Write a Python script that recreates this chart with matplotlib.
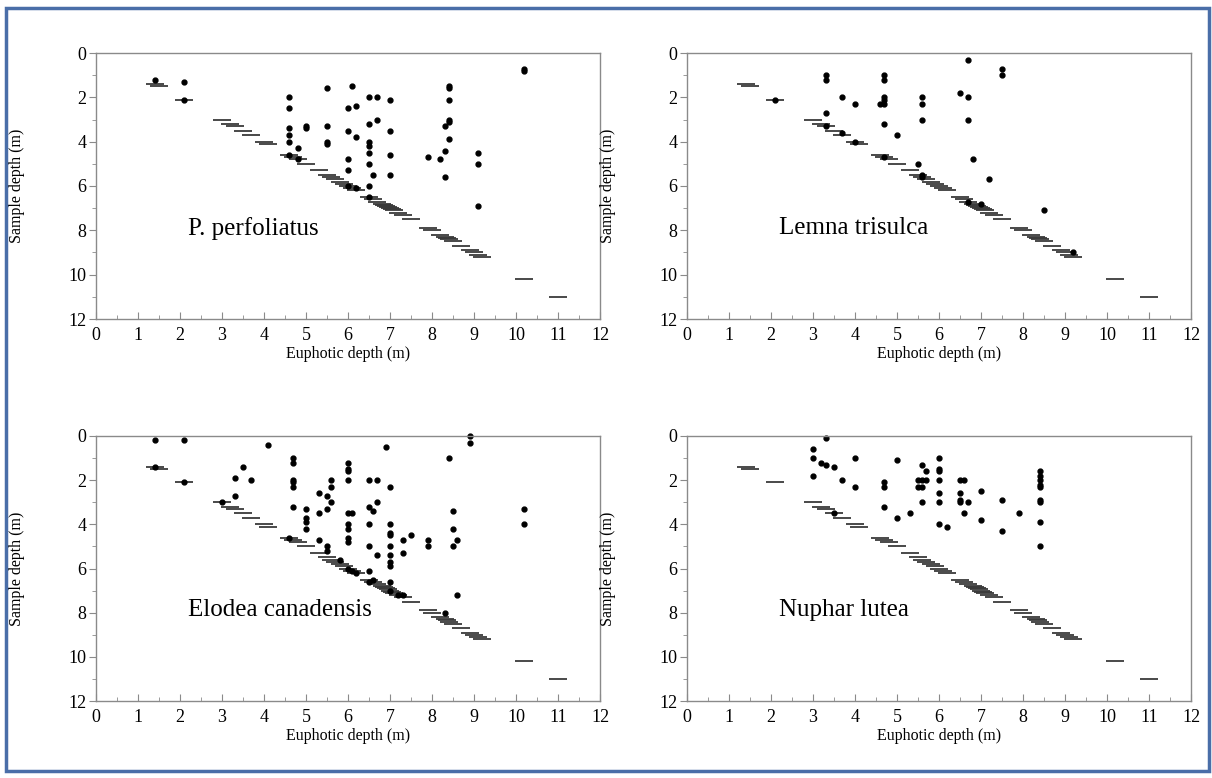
import matplotlib
matplotlib.use('Agg')
import matplotlib.pyplot as plt
from matplotlib.patches import Rectangle
from matplotlib.ticker import MultipleLocator

plt.rcParams['font.family'] = ['Liberation Serif', 'DejaVu Serif']

# euphotic depth of each sampled lake, drawn as a dash on the 1:1 line
lake_zeu = [1.4, 1.5, 2.1, 3.0, 3.2, 3.3, 3.5, 3.7, 4.0, 4.1, 4.6, 4.7, 4.8,
            5.0, 5.3, 5.5, 5.6, 5.7, 5.8, 5.9, 6.0, 6.1, 6.2, 6.5, 6.6, 6.7,
            6.8, 6.85, 6.9, 6.95, 7.0, 7.05, 7.1, 7.2, 7.3, 7.5, 7.9, 8.0,
            8.2, 8.3, 8.35, 8.4, 8.5, 8.7, 8.9, 9.0, 9.1, 9.2, 10.2, 11.0]

# P. perfoliatus
perf_zeu = [1.4, 2.1, 2.1, 4.6, 4.6, 4.6, 4.6, 4.6, 4.6, 4.8, 4.8, 5.0, 5.0,
            5.5, 5.5, 5.5, 5.5, 6.1, 6.0, 6.2, 6.0, 6.2, 6.0, 6.0, 6.0, 6.2,
            6.5, 6.7, 7.0, 6.5, 6.7, 6.5, 6.5, 6.5, 6.5, 6.6, 6.5, 6.5,
            7.0, 7.0, 7.0, 7.9, 8.2, 8.3, 8.3, 8.3, 8.4, 8.4, 8.4, 8.4, 8.4,
            8.4, 9.1, 9.1, 9.1, 10.2, 10.2]
perf_depth = [1.2, 1.3, 2.1, 2.0, 2.5, 3.4, 3.7, 4.0, 4.6, 4.3, 4.8, 3.3, 3.4,
              1.6, 3.3, 4.0, 4.1, 1.5, 2.5, 2.4, 3.5, 3.8, 4.8, 5.3, 6.0, 6.1,
              2.0, 2.0, 2.1, 3.2, 3.0, 4.0, 4.2, 4.5, 5.0, 5.5, 6.0, 6.5,
              3.5, 4.6, 5.5, 4.7, 4.8, 4.4, 5.6, 3.3, 1.5, 1.6, 2.1, 3.0, 3.1,
              3.9, 4.5, 5.0, 6.9, 0.7, 0.8]

# Lemna trisulca
lemna_zeu = [2.1, 3.3, 3.3, 3.3, 3.3, 3.7, 4.0, 3.7, 4.0, 4.7, 4.7, 4.7, 4.7,
             4.6, 4.7, 4.7, 4.7, 5.0, 5.6, 5.6, 5.6, 5.5, 5.6, 5.6, 6.7, 7.5,
             7.5, 6.5, 6.7, 6.7, 6.8, 7.2, 6.7, 7.0, 8.5, 9.2]
lemna_depth = [2.1, 1.0, 1.2, 2.7, 3.3, 2.0, 2.3, 3.6, 4.0, 1.0, 1.2, 2.0, 2.1,
               2.3, 2.3, 3.2, 4.7, 3.7, 2.0, 2.3, 3.0, 5.0, 5.5, 5.6, 0.3, 0.7,
               1.0, 1.8, 2.0, 3.0, 4.8, 5.7, 6.7, 6.8, 7.1, 9.0]

# Elodea canadensis
elodea_zeu = [1.4, 2.1, 1.4, 2.1, 3.0, 3.3, 3.3, 3.5, 3.7, 4.1,
              4.7, 4.7, 4.7, 4.7, 4.7, 4.7, 4.6,
              5.0, 5.0, 5.0, 5.0,
              5.3, 5.3, 5.3, 5.5, 5.5, 5.5, 5.5, 5.6, 5.6, 5.6, 5.8,
              6.0, 6.0, 6.0, 6.0, 6.0, 6.1, 6.0, 6.0, 6.0, 6.0, 6.0, 6.1, 6.2,
              6.5, 6.7, 6.5, 6.6, 6.7, 6.5, 6.5, 6.7, 6.5, 6.5, 6.6,
              6.9, 7.0, 7.0, 7.0, 7.0, 7.0, 7.0, 7.0, 7.0, 7.0, 7.0,
              7.2, 7.3, 7.3, 7.5, 7.3, 7.9, 7.9,
              8.4, 8.5, 8.5, 8.5, 8.6, 8.6, 8.3, 8.9, 8.9, 10.2, 10.2]
elodea_depth = [0.2, 0.2, 1.4, 2.1, 3.0, 1.9, 2.7, 1.4, 2.0, 0.4,
                1.0, 1.2, 2.0, 2.1, 2.3, 3.2, 4.6,
                3.3, 3.7, 3.9, 4.2,
                2.6, 3.5, 4.7, 2.7, 3.3, 5.0, 5.2, 2.0, 2.3, 3.0, 5.6,
                1.2, 1.5, 1.6, 2.0, 3.5, 3.5, 4.0, 4.2, 4.6, 4.8, 6.0, 6.1, 6.2,
                2.0, 2.0, 3.2, 3.4, 3.0, 4.0, 5.0, 5.4, 6.1, 6.6, 6.5,
                0.5, 2.3, 4.0, 4.4, 4.5, 5.0, 5.4, 5.7, 5.9, 6.6, 7.0,
                7.2, 7.2, 4.7, 4.5, 5.3, 4.7, 5.0,
                1.0, 3.4, 4.2, 5.0, 4.7, 7.2, 8.0, 0.0, 0.3, 3.3, 4.0]

# Nuphar lutea
nuphar_zeu = [3.0, 3.0, 3.0, 3.3, 3.2, 3.3, 3.5, 3.7, 3.5, 4.0, 4.0,
              4.7, 4.7, 4.7, 5.0, 5.0, 5.3,
              5.5, 5.6, 5.7, 5.5, 5.6, 5.6, 5.7, 5.6,
              6.0, 6.0, 6.0, 6.0, 6.0, 6.0, 6.0, 6.2,
              6.5, 6.6, 6.5, 6.5, 6.5, 6.7, 6.6, 7.0, 7.0, 7.5, 7.5, 7.9,
              8.4, 8.4, 8.4, 8.4, 8.4, 8.4, 8.4, 8.4, 8.4]
nuphar_depth = [0.6, 1.0, 1.8, 0.1, 1.2, 1.3, 1.4, 2.0, 3.5, 1.0, 2.3,
                2.1, 2.3, 3.2, 1.1, 3.7, 3.5,
                2.0, 2.0, 2.0, 2.3, 2.3, 1.3, 1.6, 3.0,
                1.0, 1.5, 1.6, 2.0, 2.6, 3.0, 4.0, 4.1,
                2.0, 2.0, 2.6, 2.9, 3.0, 3.0, 3.5, 2.5, 3.8, 2.9, 4.3, 3.5,
                1.6, 1.8, 2.0, 2.2, 2.3, 2.9, 3.0, 3.9, 5.0]

species = ['P. perfoliatus', 'Lemna trisulca', 'Elodea canadensis', 'Nuphar lutea']
xs = [perf_zeu, lemna_zeu, elodea_zeu, nuphar_zeu]
ys = [perf_depth, lemna_depth, elodea_depth, nuphar_depth]

W, H = 1212, 778
fig = plt.figure(figsize=(W / 100, H / 100), dpi=100)

# panel boxes in pixels: left, top, right, bottom
boxes = [(96, 53, 600, 319), (687, 53, 1191, 319),
         (96, 436, 600, 701), (687, 436, 1191, 701)]

spine_col = '#8a8a8a'
for i, (l, t, r, b) in enumerate(boxes):
    ax = fig.add_axes([l / W, 1 - b / H, (r - l) / W, (b - t) / H])
    ax.plot(lake_zeu, lake_zeu, linestyle='none', marker='_', markersize=12.5,
            markeredgewidth=1.3, color='#3a3a3a')
    ax.plot(xs[i], ys[i], linestyle='none', marker='o', markersize=3.5,
            color='black', clip_on=False)
    ax.set_xlim(0, 12)
    ax.set_ylim(12, 0)
    ax.xaxis.set_major_locator(MultipleLocator(1))
    ax.xaxis.set_minor_locator(MultipleLocator(0.5))
    ax.yaxis.set_major_locator(MultipleLocator(2))
    ax.yaxis.set_minor_locator(MultipleLocator(1))
    ax.tick_params(axis='x', which='both', direction='in', color=spine_col,
                   labelsize=13, pad=6)
    ax.tick_params(axis='x', which='major', length=5)
    ax.tick_params(axis='x', which='minor', length=3)
    ax.tick_params(axis='y', which='both', direction='out', color=spine_col,
                   labelsize=13, pad=2)
    ax.tick_params(axis='y', which='major', length=5)
    ax.tick_params(axis='y', which='minor', length=3)
    for s in ax.spines.values():
        s.set_color(spine_col)
        s.set_linewidth(1.0)
    ax.set_xlabel('Euphotic depth (m)', fontsize=11.5)
    ax.set_ylabel('Sample depth (m)', fontsize=11.5)
    ax.xaxis.set_label_coords(0.5, -0.1)
    ax.yaxis.set_label_coords(-0.14, 0.5)
    ax.text(2.2, 7.9, species[i], fontsize=18, va='center', ha='left')

fig.patches.append(Rectangle((6 / W, 7 / H), 1203 / W, 763 / H,
                             transform=fig.transFigure, fill=False,
                             edgecolor='#4a6ea8', linewidth=2.5))

fig.savefig('out.png', dpi=100)
